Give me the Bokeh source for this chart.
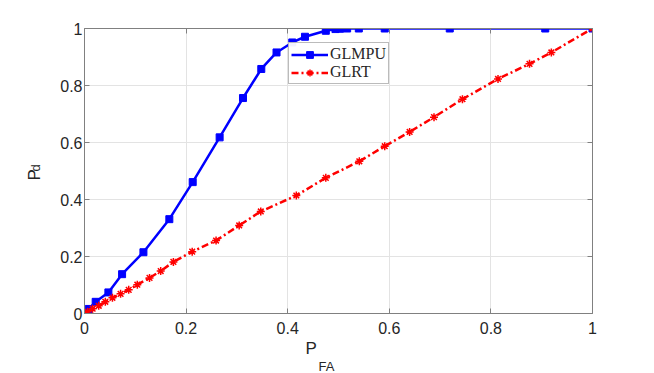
import math
from bokeh.plotting import figure
from bokeh.models import Range1d, LinearAxis, FixedTicker, Legend, LegendItem, Title
from bokeh.embed import file_html
from bokeh.resources import INLINE

# ---- data ----
pfa_glmpu = [0, 0.0085, 0.022, 0.047, 0.074, 0.116, 0.167, 0.213, 0.266, 0.312, 0.348, 0.378,
             0.409, 0.434, 0.475, 0.494, 0.503, 0.517, 0.540, 0.591, 0.719, 0.907, 1.0]
pd_glmpu = [0, 0.016, 0.041, 0.074, 0.138, 0.215, 0.331, 0.461, 0.618, 0.756, 0.858, 0.916,
            0.951, 0.971, 0.992, 0.998, 0.999, 1.0, 1.0, 1.0, 1.0, 1.0, 1.0]

pfa_glrt = [0, 0.006, 0.016, 0.028, 0.041, 0.055, 0.071, 0.087, 0.104, 0.128, 0.150, 0.175,
            0.212, 0.259, 0.3045, 0.347, 0.417, 0.475, 0.541, 0.591, 0.640, 0.688, 0.744,
            0.814, 0.876, 0.919, 1.0]
pd_glrt = [0, 0.006, 0.017, 0.027, 0.041, 0.055, 0.069, 0.083, 0.101, 0.125, 0.149, 0.181,
           0.217, 0.256, 0.309, 0.358, 0.414, 0.476, 0.534, 0.587, 0.637, 0.689, 0.752,
           0.823, 0.876, 0.916, 1.0]

x_ticks = [0, 0.2, 0.4, 0.6, 0.8, 1]
x_tick_labels = ["0", "0.2", "0.4", "0.6", "0.8", "1"]
y_ticks = [0, 0.2, 0.4, 0.6, 0.8, 1]
y_tick_labels = ["0", "0.2", "0.4", "0.6", "0.8", "1"]

series_names = ["GLMPU", "GLRT"]

AX = "#808080"
TXT = "#262626"
FONT = "Liberation Sans"

p = figure(width=654, height=373, output_backend="svg", toolbar_location=None,
           x_range=Range1d(0, 1), y_range=Range1d(0, 1),
           min_border_left=84, min_border_right=62, min_border_top=28, min_border_bottom=59)
p.outline_line_color = None
p.background_fill_color = "white"
p.border_fill_color = "white"

for ax in p.xaxis + p.yaxis:
    ax.axis_line_color = AX
    ax.major_tick_line_color = AX
    ax.minor_tick_line_color = None
    ax.major_tick_in = 5
    ax.major_tick_out = 0
    ax.major_label_text_font = FONT
    ax.major_label_text_font_size = "16px"
    ax.major_label_text_color = TXT
p.xaxis.ticker = FixedTicker(ticks=x_ticks)
p.yaxis.ticker = FixedTicker(ticks=y_ticks)
p.xaxis.major_label_overrides = {float(t): l for t, l in zip(x_ticks, x_tick_labels)}
p.yaxis.major_label_overrides = {float(t): l for t, l in zip(y_ticks, y_tick_labels)}
p.xaxis.major_label_standoff = 8
p.yaxis.major_label_standoff = 2

top = LinearAxis(ticker=FixedTicker(ticks=x_ticks))
right = LinearAxis(ticker=FixedTicker(ticks=y_ticks))
for ax in (top, right):
    ax.axis_line_color = AX
    ax.major_tick_line_color = AX
    ax.minor_tick_line_color = None
    ax.major_tick_in = 5
    ax.major_tick_out = 0
    ax.major_label_text_font_size = "0px"
    ax.major_label_standoff = 0
p.add_layout(top, "above")
p.add_layout(right, "right")

p.xgrid.ticker = FixedTicker(ticks=x_ticks)
p.ygrid.ticker = FixedTicker(ticks=y_ticks)
p.grid.grid_line_color = "#e3e3e3"
p.grid.grid_line_width = 1

# series
l1 = p.line(pfa_glmpu, pd_glmpu, line_color="blue", line_width=2.5)
m1 = p.scatter(pfa_glmpu, pd_glmpu, marker="square", size=7, fill_color="blue", line_color="blue")
l2 = p.line(pfa_glrt, pd_glrt, line_color="red", line_width=2.5, line_dash="7 3 2 3")
m2 = p.scatter(pfa_glrt, pd_glrt, marker="asterisk", size=8, line_color="red", line_width=1.5)

legend = Legend(items=[LegendItem(label=series_names[0], renderers=[l1, m1]),
                       LegendItem(label=series_names[1], renderers=[l2, m2])],
                location=(204, 229))
legend.label_text_font = "Liberation Serif"
legend.label_text_font_size = "16px"
legend.label_text_color = TXT
legend.border_line_color = "#777777"
legend.border_line_width = 1
legend.background_fill_color = "white"
legend.padding = 2
legend.spacing = 0
legend.margin = 0
legend.glyph_width = 37
legend.glyph_height = 17
legend.label_height = 17
legend.label_standoff = 2
p.add_layout(legend, "center")

tkw = dict(text_font=FONT, text_color=TXT, text_font_style="normal", align="left")
# x axis label "P_FA"
p.add_layout(Title(text="P", offset=221, text_font_size="17px", standoff=0, **tkw), "below")
p.add_layout(Title(text="FA", offset=234, text_font_size="13px", standoff=-1, **tkw), "below")
# y axis label "P_d" (subscript nearer the axis)
p.add_layout(Title(text="d", offset=142, text_font_size="13px", standoff=29, **tkw), "left")
p.add_layout(Title(text="P", offset=133, text_font_size="17px", standoff=-65, **tkw), "left")

open("out.html", "w").write(file_html(p, INLINE))
